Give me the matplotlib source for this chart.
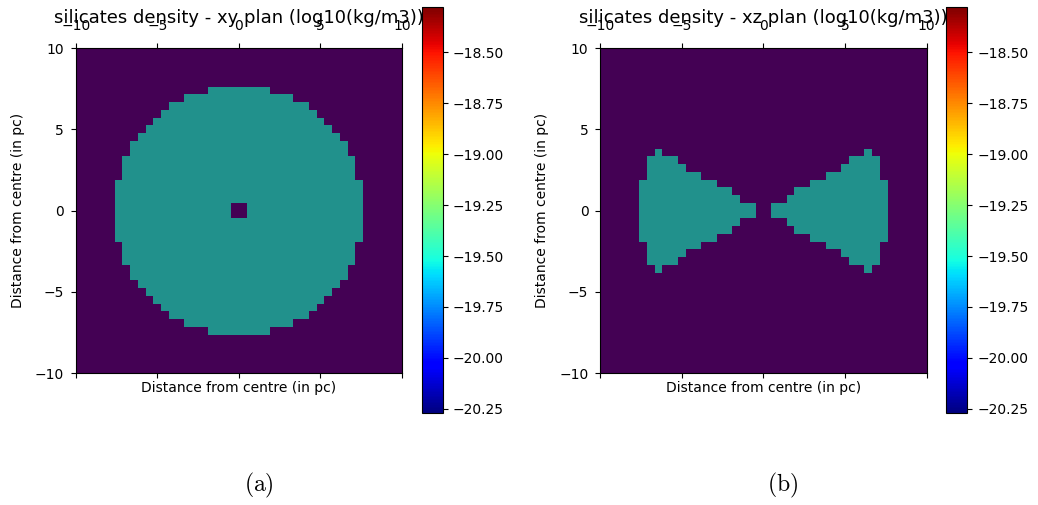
import numpy as np
import matplotlib
matplotlib.use("Agg")
import matplotlib.pyplot as plt
from matplotlib import cm
from matplotlib.colors import Normalize

plt.rcParams['mathtext.fontset'] = 'cm'

# ---- data ----
n_cells = 42                     # grid cells along each axis
extent_pc = [-10, 10, -10, 10]
# xy plane: half-width (in cells) of the disk for each row, from centre outward
xy_row_halfwidth = [16, 16, 16, 16, 15, 15, 15, 14, 14, 13, 12, 11, 10, 9, 7, 4]
xy_hole_halfwidth = 1            # central empty cells (half size)
# xz plane: half-height (in cells) of the lobes for each column, from centre outward
xz_col_halfheight = [0, 1, 1, 2, 3, 3, 4, 4, 5, 5, 6, 7, 7, 8, 7, 4]
bg_value = -20.27                # log10 density outside
dust_value = -19.275             # log10 density inside
cbar_min, cbar_max = -20.27, -18.28
cbar_ticks = [-20.25, -20.00, -19.75, -19.50, -19.25, -19.00, -18.75, -18.50]
axis_ticks = [-10, -5, 0, 5, 10]
titles = ["silicates density - xy plan (log10(kg/m3))",
          "silicates density - xz plan (log10(kg/m3))"]
xlabel = "Distance from centre (in pc)"
ylabel = "Distance from centre (in pc)"
captions = ["(a)", "(b)"]

# ---- build grids ----
half = n_cells // 2
idx = np.arange(n_cells)
dist = np.where(idx >= half, idx - half, half - 1 - idx)   # 0-based distance from centre
D_row, D_col = np.meshgrid(dist, dist, indexing='ij')

def lookup(table, d):
    t = np.array(list(table) + [0] * (n_cells))
    return t[d]

xy = np.full((n_cells, n_cells), bg_value)
inside = D_col < lookup(xy_row_halfwidth, D_row)
hole = (D_row < xy_hole_halfwidth) & (D_col < xy_hole_halfwidth)
xy[inside & ~hole] = dust_value

xz = np.full((n_cells, n_cells), bg_value)
lobes = D_row < lookup(xz_col_halfheight, D_col)
xz[lobes] = dust_value

grids = [xy, xz]
edges_x = np.linspace(extent_pc[0], extent_pc[1], n_cells + 1)
edges_y = np.linspace(extent_pc[2], extent_pc[3], n_cells + 1)

W, H = 1038, 505
fig = plt.figure(figsize=(W / 100, H / 100), dpi=100)

def px(x0, y0, w, h):
    return [x0 / W, 1 - (y0 + h) / H, w / W, h / H]

ax_lefts = [75.7, 600.2]
cb_lefts = [421.7, 946.3]
cap_x = [259, 783]
norm = Normalize(vmin=cbar_min, vmax=cbar_max)

for i in range(2):
    ax = fig.add_axes(px(ax_lefts[i], 48.0, 326.3, 325.3))
    ax.pcolormesh(edges_x, edges_y, grids[i], cmap='viridis', norm=norm,
                  shading='flat', antialiased=False, edgecolors='none')
    ax.set_xlim(-10, 10)
    ax.set_ylim(-10, 10)
    ax.set_xticks(axis_ticks)
    ax.set_yticks(axis_ticks)
    ax.tick_params(axis='x', top=True, bottom=True, labeltop=True,
                   labelbottom=False, labelsize=10, pad=7)
    ax.tick_params(axis='y', labelsize=10, pad=5)
    ax.set_xlabel(xlabel, fontsize=10, labelpad=2)
    ax.set_ylabel(ylabel, fontsize=10, labelpad=7)
    ax.set_title(titles[i], fontsize=13, y=1.0775, pad=0)

    cax = fig.add_axes(px(cb_lefts[i], 7.3, 21.1, 405.7))
    sm = cm.ScalarMappable(norm=norm, cmap='jet')
    cb = fig.colorbar(sm, cax=cax, ticks=cbar_ticks)
    cb.ax.tick_params(labelsize=10)
    cb.ax.set_yticklabels([f"{t:.2f}".replace('-', '\u2212') for t in cbar_ticks])

    fig.text(cap_x[i] / W, 1 - 485 / H, r'$\mathrm{' + captions[i] + '}$',
             ha='center', va='center', fontsize=17)

fig.savefig("out.png", dpi=100)
